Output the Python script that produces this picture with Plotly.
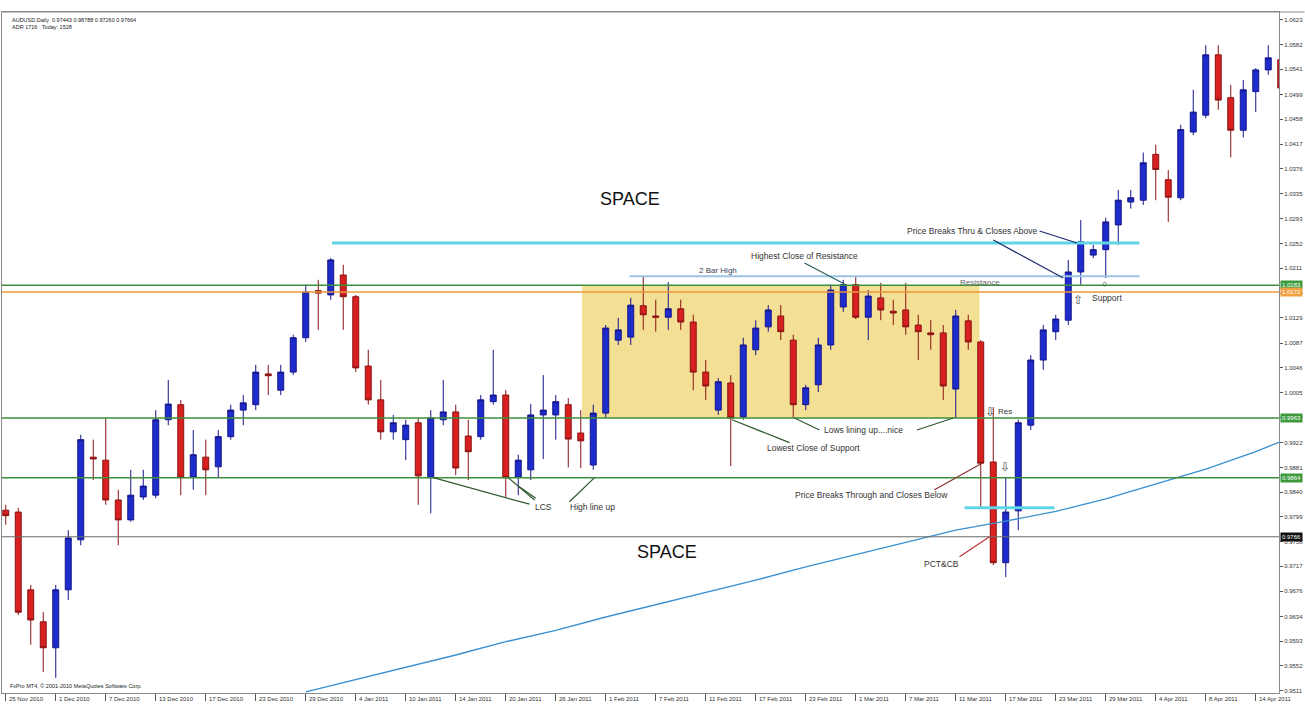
import plotly.graph_objects as go

# ---------------- data ----------------
tick_labels = ["25 Nov 2010", "1 Dec 2010", "7 Dec 2010", "13 Dec 2010", "17 Dec 2010",
               "23 Dec 2010", "29 Dec 2010", "4 Jan 2011", "10 Jan 2011", "14 Jan 2011",
               "20 Jan 2011", "26 Jan 2011", "1 Feb 2011", "7 Feb 2011", "11 Feb 2011",
               "17 Feb 2011", "23 Feb 2011", "1 Mar 2011", "7 Mar 2011", "11 Mar 2011",
               "17 Mar 2011", "23 Mar 2011", "29 Mar 2011", "4 Apr 2011", "8 Apr 2011",
               "14 Apr 2011"]

open_ = [0.9810, 0.9807, 0.9678, 0.9625, 0.9582, 0.9678, 0.9761, 0.9898, 0.9893, 0.9827,
         0.9794, 0.9832, 0.9835, 0.9960, 0.9985, 0.9865, 0.9898, 0.9882, 0.9932, 0.9976,
         0.9985, 1.0036, 1.0009, 1.0039, 1.0096, 1.0174, 1.0167, 1.0200, 1.0164, 1.0049,
         0.9993, 0.9940, 0.9927, 0.9955, 0.9864, 0.9960, 0.9973, 0.9933, 0.9932, 0.9990,
         1.0001, 0.9865, 0.9877, 0.9968, 0.9968, 0.9985, 0.9938, 0.9885, 0.9971, 1.0092,
         1.0097, 1.0149, 1.0132, 1.0130, 1.0144, 1.0122, 1.0039, 0.9976, 1.0021, 0.9965,
         1.0076, 1.0114, 1.0132, 1.0092, 0.9985, 1.0018, 1.0084, 1.0147, 1.0184, 1.0130,
         1.0162, 1.0140, 1.0142, 1.0117, 1.0104, 1.0104, 1.0011, 1.0124, 1.0089, 0.9890,
         0.9723, 0.9809, 0.9951, 1.0059, 1.0106, 1.0125, 1.0205, 1.0233, 1.0242, 1.0283,
         1.0321, 1.0324, 1.0400, 1.0358, 1.0328, 1.0437, 1.0465, 1.0565, 1.0494, 1.0440,
         1.0504, 1.0540, 1.0557]
high = [0.9819, 0.9814, 0.9686, 0.9641, 0.9686, 0.9777, 0.9935, 0.9927, 0.9963, 0.9844,
        0.9877, 0.9877, 0.9976, 1.0026, 0.9993, 0.9943, 0.9927, 0.9943, 0.9985, 1.0001,
        1.0051, 1.0051, 1.0051, 1.0101, 1.0184, 1.0192, 1.0228, 1.0217, 1.0167, 1.0076,
        1.0026, 0.9968, 0.9960, 0.9963, 0.9976, 1.0026, 0.9985, 0.9960, 1.0001, 1.0076,
        1.0009, 0.9902, 0.9986, 1.0034, 1.0001, 0.9996, 0.9976, 0.9985, 1.0117, 1.0129,
        1.0162, 1.0198, 1.0159, 1.0188, 1.0159, 1.0134, 1.0059, 1.0029, 1.0034, 1.0096,
        1.0125, 1.0150, 1.0150, 1.0101, 1.0018, 1.0096, 1.0184, 1.0192, 1.0198, 1.0175,
        1.0187, 1.0159, 1.0187, 1.0134, 1.0125, 1.0117, 1.0142, 1.0134, 1.0092, 0.9981,
        0.9865, 0.9960, 1.0067, 1.0117, 1.0134, 1.0225, 1.0291, 1.0250, 1.0295, 1.0341,
        1.0341, 1.0403, 1.0416, 1.0374, 1.0449, 1.0507, 1.0581, 1.0581, 1.0515, 1.0523,
        1.0543, 1.0581, 1.0573]
low = [0.9786, 0.9636, 0.9587, 0.9542, 0.9532, 0.9661, 0.9752, 0.9860, 0.9819, 0.9752,
       0.9791, 0.9827, 0.9830, 0.9951, 0.9835, 0.9844, 0.9835, 0.9864, 0.9927, 0.9951,
       0.9976, 1.0001, 1.0001, 1.0034, 1.0089, 1.0109, 1.0159, 1.0109, 1.0039, 0.9985,
       0.9927, 0.9927, 0.9893, 0.9819, 0.9805, 0.9951, 0.9868, 0.9860, 0.9927, 0.9985,
       0.9832, 0.9835, 0.9860, 0.9895, 0.9927, 0.9881, 0.9880, 0.9877, 0.9963, 1.0084,
       1.0084, 1.0109, 1.0106, 1.0109, 1.0109, 1.0009, 0.9993, 0.9968, 0.9883, 0.9960,
       1.0067, 1.0106, 1.0092, 0.9963, 0.9976, 1.0006, 1.0076, 1.0139, 1.0127, 1.0092,
       1.0125, 1.0117, 1.0101, 1.0059, 1.0076, 0.9993, 0.9963, 1.0076, 0.9814, 0.9719,
       0.9699, 0.9777, 0.9943, 1.0043, 1.0092, 1.0117, 1.0184, 1.0228, 1.0195, 1.0250,
       1.0310, 1.0316, 1.0324, 1.0288, 1.0324, 1.0432, 1.0460, 1.0474, 1.0395, 1.0428,
       1.0470, 1.0532, 1.0507]
close = [0.9801, 0.9641, 0.9628, 0.9582, 0.9678, 0.9764, 0.9927, 0.9895, 0.9827, 0.9794,
         0.9835, 0.9850, 0.9960, 0.9986, 0.9864, 0.9902, 0.9877, 0.9932, 0.9976, 0.9988,
         1.0039, 1.0033, 1.0039, 1.0096, 1.0172, 1.0170, 1.0225, 1.0164, 1.0046, 0.9993,
         0.9940, 0.9955, 0.9951, 0.9867, 0.9963, 0.9973, 0.9880, 0.9907, 0.9993, 1.0001,
         0.9864, 0.9893, 0.9968, 0.9976, 0.9990, 0.9928, 0.9925, 0.9971, 1.0112, 1.0109,
         1.0150, 1.0134, 1.0130, 1.0144, 1.0122, 1.0039, 1.0016, 1.0023, 0.9963, 1.0084,
         1.0112, 1.0142, 1.0106, 0.9985, 1.0013, 1.0084, 1.0175, 1.0184, 1.0130, 1.0165,
         1.0142, 1.0137, 1.0114, 1.0106, 1.0101, 1.0016, 1.0132, 1.0089, 0.9888, 0.9723,
         0.9807, 0.9955, 1.0059, 1.0109, 1.0127, 1.0205, 1.0255, 1.0242, 1.0288, 1.0324,
         1.0328, 1.0386, 1.0375, 1.0329, 1.0441, 1.0470, 1.0565, 1.0490, 1.0440, 1.0507,
         1.0540, 1.0560, 1.0510]

ma_bar = [24, 28, 32, 36, 40, 44, 48, 52, 56, 60, 64, 68, 72, 76, 80, 84, 88, 92, 96, 100, 102]
ma_val = [0.9509, 0.9529, 0.9550, 0.9570, 0.9592, 0.9611, 0.9633, 0.9653, 0.9674, 0.9694,
          0.9716, 0.9736, 0.9757, 0.9777, 0.9792, 0.9808, 0.9829, 0.9853, 0.9878, 0.9907,
          0.9924]

y_ticks = [1.0623, 1.0582, 1.0541, 1.0499, 1.0458, 1.0417, 1.0376, 1.0335, 1.0293, 1.0252,
           1.0211, 1.0170, 1.0129, 1.0087, 1.0046, 1.0005, 0.9964, 0.9922, 0.9881, 0.9840,
           0.9799, 0.9758, 0.9717, 0.9676, 0.9634, 0.9593, 0.9552, 0.9511]

level_resistance = 1.0183
level_orange = 1.0172
level_support = 0.9963
level_lower = 0.9864
level_bid = 0.9766
level_high_cyan = 1.0253
level_two_bar_high = 1.0198
level_low_cyan = 0.9814

bars = list(range(len(open_)))
FONT = "Liberation Sans"
TXT = "#333333"

fig = go.Figure()

fig.add_trace(go.Scatter(x=ma_bar, y=ma_val, mode="lines",
                         line=dict(color="#3a8fd0", width=1.3), hoverinfo="skip"))

fig.add_trace(go.Candlestick(
    x=bars, open=open_, high=high, low=low, close=close,
    increasing=dict(line=dict(color="#14148a", width=1), fillcolor="#1e2ccc"),
    decreasing=dict(line=dict(color="#8a1212", width=1), fillcolor="#d82020"),
    whiskerwidth=0, showlegend=False))

shapes = []
# yellow consolidation zone
shapes.append(dict(type="rect", xref="x", yref="y", x0=46.1, x1=77.9,
                   y0=level_support, y1=level_resistance, fillcolor="#f3dd88",
                   line=dict(width=0), layer="below", opacity=0.9))
# full width levels
for lv, col, w in [(level_resistance, "#3c8f3c", 1.5), (level_orange, "#e8983a", 1.5),
                   (level_support, "#3c8f3c", 1.5), (level_lower, "#3c8f3c", 1.5),
                   (level_bid, "#6a6a6a", 1.2)]:
    shapes.append(dict(type="line", xref="paper", yref="y", x0=0, x1=1, y0=lv, y1=lv,
                       line=dict(color=col, width=w)))
# partial lines
shapes.append(dict(type="line", xref="x", yref="y", x0=26.1, x1=90.7,
                   y0=level_high_cyan, y1=level_high_cyan, line=dict(color="#5fd6e6", width=3)))
shapes.append(dict(type="line", xref="x", yref="y", x0=49.9, x1=90.7,
                   y0=level_two_bar_high, y1=level_two_bar_high, line=dict(color="#9cc2e4", width=2)))
shapes.append(dict(type="line", xref="x", yref="y", x0=76.7, x1=83.9,
                   y0=level_low_cyan, y1=level_low_cyan, line=dict(color="#5fd6e6", width=3)))
# top frame line across the whole width
shapes.append(dict(type="line", xref="paper", yref="paper", x0=0, x1=1.02, y0=1, y1=1,
                   line=dict(color="#8a8a8a", width=1)))

# pointer lines
pointers = [
    (63.9, 1.0220, 67.1, 1.0185, "#2a5e5e"),
    (58.1, 0.9960, 62.7, 0.9922, "#2e5a2e"),
    (63.1, 0.9963, 65.1, 0.9943, "#2e5a2e"),
    (72.9, 0.9943, 75.8, 0.9963, "#2e5a2e"),
    (34.2, 0.9864, 41.9, 0.9820, "#2e5a2e"),
    (40.2, 0.9864, 42.3, 0.9827, "#2e5a2e"),
    (41.0, 0.9850, 42.4, 0.9830, "#2e5a2e"),
    (47.1, 0.9864, 45.1, 0.9824, "#2e5a2e"),
    (82.7, 1.0273, 85.7, 1.0253, "#1c2a6a"),
    (79.0, 1.0258, 84.6, 1.0195, "#1c2a6a"),
    (74.3, 0.9844, 78.1, 0.9888, "#8a3030"),
    (76.3, 0.9733, 78.7, 0.9766, "#c03030"),
]
for x0, y0, x1, y1, col in pointers:
    shapes.append(dict(type="line", xref="x", yref="y", x0=x0, y0=y0, x1=x1, y1=y1,
                       line=dict(color=col, width=1.2)))

ann = []
def txt(x, y, s, size=8.5, anchor="left", color=TXT):
    ann.append(dict(x=x, y=y, xref="x", yref="y", text=s, showarrow=False,
                    xanchor=anchor, yanchor="middle",
                    font=dict(family=FONT, size=size, color=color)))

txt(49.9, 1.0326, "SPACE", 18, "center", "#111111")
txt(52.9, 0.9741, "SPACE", 18, "center", "#111111")
txt(57.0, 1.0208, "2 Bar High", 8, "center", "#3a3a5a")
txt(63.9, 1.0232, "Highest Close of Resistance", 8.5, "center")
txt(77.9, 1.0187, "Resistance", 8, "center", "#666666")
txt(82.7, 1.0273, "Price Breaks Thru &amp; Closes Above", 8.5, "right")
txt(86.7, 1.0162, "Support", 8.5, "left")
txt(85.8, 1.0159, "⇧", 12, "center", "#444444")
txt(87.9, 1.0185, "○", 9, "center", "#444444")
txt(65.3, 0.9943, "Lows lining up....nice", 8.5, "left")
txt(60.7, 0.9913, "Lowest Close of Support", 8.5, "left")
txt(42.2, 0.9815, "LCS", 8.5, "left")
txt(45.0, 0.9815, "High line up", 8.5, "left")
txt(63.0, 0.9835, "Price Breaks Through and Closes Below", 8.5, "left")
txt(73.3, 0.9721, "PCT&amp;CB", 8.5, "left")
txt(78.7, 0.9973, "⇩", 12, "center", "#444444")
txt(79.2, 0.9973, "Res", 8, "left")
txt(79.9, 0.9882, "⇩", 12, "center", "#444444")

# x axis labels (left aligned at tick, MT4 style)
for k, lab in enumerate(tick_labels):
    ann.append(dict(x=4 * k, y=0, xref="x", yref="paper", text=lab, showarrow=False,
                    xanchor="left", yanchor="top", xshift=1, yshift=-1,
                    font=dict(family=FONT, size=6, color=TXT)))

# level price boxes on the right axis
for lv, bg, fg in [(level_resistance, "#3c9a3c", "#ffffff"), (level_orange, "#f0a040", "#ffffff"),
                   (level_support, "#3c9a3c", "#ffffff"), (level_lower, "#3c9a3c", "#ffffff"),
                   (level_bid, "#111111", "#ffffff")]:
    ann.append(dict(x=1, y=lv, xref="paper", yref="y", text=f"{lv:.4f}", showarrow=False,
                    xanchor="left", yanchor="middle", bgcolor=bg, borderpad=1, xshift=1,
                    font=dict(family=FONT, size=6, color=fg)))

# header / footer
ann.append(dict(x=0, y=1, xref="paper", yref="paper", xanchor="left", yanchor="top",
                xshift=8, yshift=-3, showarrow=False, align="left",
                text="AUDUSD,Daily  0.97443 0.98788 0.97260 0.97664<br>ADR 1716   Today: 1528",
                font=dict(family=FONT, size=5.5, color="#222222")))
ann.append(dict(x=0, y=0, xref="paper", yref="paper", xanchor="left", yanchor="bottom",
                xshift=6, yshift=2, showarrow=False,
                text="FxPro MT4, © 2001-2010 MetaQuotes Software Corp.",
                font=dict(family=FONT, size=5.5, color="#222222")))

fig.update_layout(
    width=1305, height=705,
    margin=dict(l=2, r=26, t=12, b=12),
    paper_bgcolor="white", plot_bgcolor="white",
    showlegend=False, boxgap=0.32,
    shapes=shapes, annotations=ann,
    xaxis=dict(range=[-0.3, 101.86], rangeslider=dict(visible=False), showgrid=False,
               zeroline=False, showline=True, linecolor="#8a8a8a", linewidth=1, mirror=True,
               tickvals=[4 * k for k in range(len(tick_labels))], ticktext=[""] * len(tick_labels),
               ticks="outside", ticklen=7, tickcolor="#555555"),
    yaxis=dict(range=[0.9507, 1.0636], side="right", showgrid=False, zeroline=False,
               showline=True, linecolor="#8a8a8a", linewidth=1, mirror=True,
               tickvals=y_ticks, ticktext=[f"{v:.4f}" for v in y_ticks],
               ticks="outside", ticklen=3, tickcolor="#555555",
               tickfont=dict(family=FONT, size=6, color=TXT)),
)

fig.write_html("out.html", config={"displayModeBar": False},
               post_script="document.body.style.margin='0';")
